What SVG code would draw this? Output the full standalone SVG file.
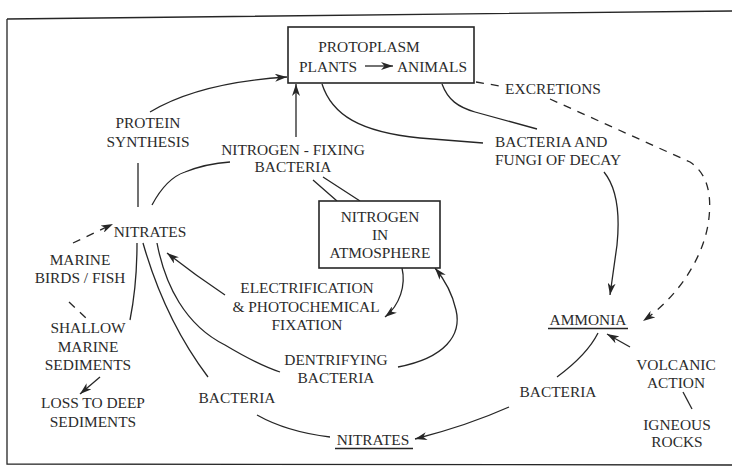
<svg xmlns="http://www.w3.org/2000/svg" width="732" height="467" viewBox="0 0 732 467" font-family="'Liberation Serif', 'Times New Roman', 'DejaVu Serif', serif">
  <style>
    text { font-family: 'Liberation Serif', 'Times New Roman', Times, 'DejaVu Serif', serif; font-size: 15.4px; fill: #2b2b2b; text-anchor: middle; }
    .ln { fill: none; stroke: #262626; stroke-width: 1.3; }
    .dash { fill: none; stroke: #262626; stroke-width: 1.3; stroke-dasharray: 8 7; }
    .box { fill: #fff; stroke: #262626; stroke-width: 1.6; }
    .ul { stroke: #262626; stroke-width: 1.6; }
  </style>
  <defs>
    <marker id="ah" viewBox="0 0 12 8" refX="12" refY="4" markerWidth="12" markerHeight="8" markerUnits="userSpaceOnUse" orient="auto">
      <path d="M0,0 L12,4 L0,8 L3.5,4 z" fill="#262626"/>
    </marker>
  </defs>
  <rect width="732" height="467" fill="#fff"/>

  <!-- outer frame -->
  <path class="ln" d="M7,19 L732,11 M7,19 L7,464 L732,465" stroke-width="1.6"/>

  <g id="connectors">
    <path class="ln" d="M150,112 C 190,88 240,80 287,77" marker-end="url(#ah)"/>
    <path class="ln" d="M296,137 L296,84" marker-end="url(#ah)"/>
    <path class="ln" d="M322,84 C 332,115 360,132 420,138 L483,143"/>
    <path class="ln" d="M442,84 C 448,100 458,107 475,112 L537,129"/>
    <path class="dash" d="M476,82 L500,86"/>
    <path class="dash" d="M550,99 L690,162 C 710,175 712,200 708,225 C 702,258 680,295 643,321" marker-end="url(#ah)"/>
    <path class="ln" d="M604,172 C 617,188 620,215 617,245 L610,295" marker-end="url(#ah)"/>
    <path class="ln" d="M557,377 C 580,360 592,345 598,333"/>
    <path class="ln" d="M630,347 L607,334" marker-end="url(#ah)"/>
    <path class="ln" d="M683,392 L692,409"/>
    <path class="ln" d="M509,407 C 480,420 450,430 415,439" marker-end="url(#ah)"/>
    <path class="ln" d="M257,415 C 280,428 305,434 330,437"/>
    <path class="ln" d="M143,243 Q 165,320 208,377"/>
    <path class="ln" d="M157,243 C 165,285 185,325 225,345 C 245,357 262,366 280,372"/>
    <path class="ln" d="M225,295 Q 195,275 167,253" marker-end="url(#ah)"/>
    <path class="ln" d="M402,268 C 406,285 400,305 385,317" marker-end="url(#ah)"/>
    <path class="ln" d="M398,367 C 445,358 462,335 456,310 C 452,292 445,280 435,268" marker-end="url(#ah)"/>
    <path class="ln" d="M152,205 C 160,190 170,177 185,172 C 200,166 215,163 230,162"/>
    <path class="ln" d="M138,163 L138,207"/>
    <path class="ln" d="M313,180 L337,201 M323,177 L360,201"/>
    <path class="ln" d="M137,243 C 137,275 134,300 130,320"/>
    <path class="dash" d="M73,243 L113,224" marker-end="url(#ah)"/>
    <path class="dash" d="M69,302 L87,319" stroke-dasharray="7 5"/>
    <path class="ln" d="M100,377 L80,394" marker-end="url(#ah)"/>
  </g>

  <g id="protoplasm">
    <rect class="box" x="288" y="27" width="186" height="56"/>
    <text x="369" y="52">PROTOPLASM</text>
    <text x="328" y="72">PLANTS</text>
    <path class="ln" d="M365,66 L393,66" marker-end="url(#ah)"/>
    <text x="432" y="72">ANIMALS</text>
  </g>

  <g id="excretions"><text x="553" y="94">EXCRETIONS</text></g>

  <g id="decay">
    <text x="495" y="147" style="text-anchor:start">BACTERIA AND</text>
    <text x="495" y="165" style="text-anchor:start">FUNGI OF DECAY</text>
  </g>

  <g id="protein-synthesis">
    <text x="148" y="128">PROTEIN</text>
    <text x="148" y="147">SYNTHESIS</text>
  </g>

  <g id="nitrogen-fixing">
    <text x="293" y="155">NITROGEN - FIXING</text>
    <text x="293" y="172">BACTERIA</text>
  </g>

  <g id="atmosphere">
    <rect class="box" x="319" y="201" width="121" height="67"/>
    <text x="380" y="222">NITROGEN</text>
    <text x="380" y="240">IN</text>
    <text x="380" y="258">ATMOSPHERE</text>
  </g>

  <g id="nitrates-upper"><text x="150" y="237">NITRATES</text></g>

  <g id="marine-birds">
    <text x="80" y="265">MARINE</text>
    <text x="80" y="283">BIRDS / FISH</text>
  </g>

  <g id="shallow-sediments">
    <text x="88" y="333">SHALLOW</text>
    <text x="88" y="352">MARINE</text>
    <text x="88" y="370">SEDIMENTS</text>
  </g>

  <g id="deep-sediments">
    <text x="93" y="408">LOSS TO DEEP</text>
    <text x="93" y="427">SEDIMENTS</text>
  </g>

  <g id="electrification">
    <text x="307" y="293">ELECTRIFICATION</text>
    <text x="306" y="312">&amp; PHOTOCHEMICAL</text>
    <text x="307" y="330">FIXATION</text>
  </g>

  <g id="denitrifying">
    <text x="336" y="365">DENTRIFYING</text>
    <text x="336" y="383">BACTERIA</text>
  </g>

  <g id="bacteria-left"><text x="237" y="403">BACTERIA</text></g>

  <g id="nitrates-lower">
    <text x="373" y="445">NITRATES</text>
    <line class="ul" x1="335" y1="448.5" x2="413" y2="448.5"/>
  </g>

  <g id="ammonia">
    <text x="588" y="325">AMMONIA</text>
    <line class="ul" x1="548" y1="328.5" x2="628" y2="328.5"/>
  </g>

  <g id="bacteria-right"><text x="558" y="397">BACTERIA</text></g>

  <g id="volcanic">
    <text x="676" y="370">VOLCANIC</text>
    <text x="676" y="388">ACTION</text>
  </g>

  <g id="igneous">
    <text x="677" y="430">IGNEOUS</text>
    <text x="677" y="447">ROCKS</text>
  </g>
</svg>
